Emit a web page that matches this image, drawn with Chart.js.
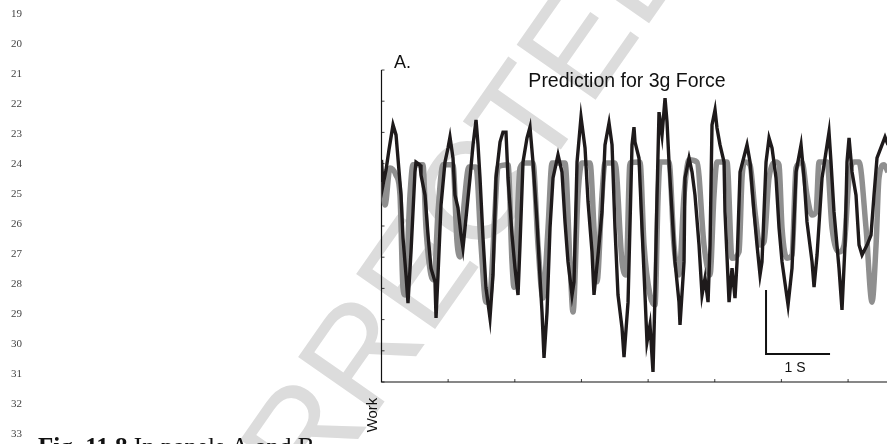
<!DOCTYPE html>
<html>
<head>
<meta charset="utf-8">
<script src="https://cdn.jsdelivr.net/npm/chart.js@4.4.1/dist/chart.umd.min.js"></script>
<style>
  html, body { margin: 0; padding: 0; background: #fff; }
  #wrap { position: relative; width: 887px; height: 444px; }
</style>
</head>
<body>
<div id="wrap"><canvas id="forceChart"></canvas></div>
<script>
// time in seconds (scale bar = 1 s), work in tick units (0..10)
const timeMeasured = [0, 0.023, 0.070, 0.117, 0.180, 0.227, 0.305, 0.336, 0.383, 0.414, 0.461, 0.523, 0.539, 0.602, 0.617, 0.680, 0.727, 0.773, 0.836, 0.852, 0.883, 0.930, 0.992, 1.039, 1.070, 1.117, 1.148, 1.195, 1.242, 1.273, 1.305, 1.383, 1.430, 1.477, 1.508, 1.539, 1.586, 1.633, 1.695, 1.742, 1.789, 1.852, 1.898, 1.945, 1.977, 2.039, 2.086, 2.133, 2.164, 2.211, 2.273, 2.320, 2.367, 2.430, 2.477, 2.508, 2.539, 2.586, 2.633, 2.680, 2.758, 2.820, 2.867, 2.914, 2.977, 3.008, 3.055, 3.117, 3.180, 3.227, 3.289, 3.320, 3.383, 3.445, 3.492, 3.555, 3.602, 3.648, 3.695, 3.758, 3.789, 3.852, 3.914, 3.945, 3.961, 4.023, 4.070, 4.117, 4.148, 4.195, 4.242, 4.273, 4.305, 4.336, 4.383, 4.430, 4.461, 4.492, 4.539, 4.586, 4.648, 4.664, 4.727, 4.742, 4.805, 4.852, 4.898, 4.961, 5.008, 5.055, 5.102, 5.133, 5.164, 5.211, 5.242, 5.289, 5.352, 5.367, 5.430, 5.477, 5.523, 5.555, 5.602, 5.711, 5.758, 5.820, 5.867, 5.914, 5.945, 6.008, 6.055, 6.102, 6.164, 6.211, 6.258, 6.352, 6.414, 6.477, 6.555, 6.602, 6.648, 6.727, 6.758, 6.805, 6.883, 6.992, 7.023, 7.070, 7.148, 7.195, 7.242, 7.273, 7.305, 7.352, 7.414, 7.461, 7.508, 7.586, 7.648, 7.695, 7.742, 7.867, 7.914];
const workMeasured = [7.12, 6.31, 6.79, 7.44, 8.24, 7.92, 5.99, 4.62, 3.43, 2.53, 4.17, 6.73, 7.05, 6.96, 6.63, 5.99, 4.71, 3.65, 3.21, 2.05, 3.43, 5.67, 7.05, 7.50, 7.85, 7.18, 5.99, 5.58, 4.71, 4.29, 4.94, 6.54, 7.60, 8.40, 7.60, 6.54, 4.62, 3.01, 2.05, 3.43, 6.54, 7.69, 8.01, 8.01, 6.54, 4.71, 3.65, 2.79, 4.39, 7.05, 7.82, 8.17, 7.05, 5.13, 3.33, 2.24, 0.77, 2.24, 4.94, 6.54, 7.28, 6.73, 5.13, 3.85, 2.79, 3.21, 7.05, 8.49, 7.50, 5.77, 4.17, 2.79, 4.07, 5.45, 7.60, 8.30, 7.60, 4.94, 2.79, 1.73, 0.80, 2.56, 7.60, 8.17, 7.69, 7.18, 4.94, 2.79, 1.28, 1.83, 0.32, 2.79, 5.99, 8.65, 7.92, 9.10, 8.33, 7.05, 5.45, 3.85, 2.56, 1.83, 3.85, 6.54, 7.18, 6.73, 5.99, 4.39, 2.79, 3.33, 2.56, 4.39, 8.24, 8.72, 8.14, 7.60, 7.05, 5.45, 2.56, 3.65, 2.69, 3.85, 6.73, 7.60, 7.05, 5.45, 4.39, 3.43, 3.85, 7.05, 7.82, 7.50, 6.54, 4.94, 3.85, 2.47, 3.65, 6.73, 7.60, 6.54, 5.13, 3.85, 3.04, 4.07, 6.54, 8.01, 7.05, 5.45, 3.65, 2.31, 4.39, 7.05, 7.82, 6.73, 5.99, 4.39, 4.07, 4.39, 4.71, 5.99, 7.18, 7.85, 7.60];

const timePredicted = [0, 0.055, 0.133, 0.227, 0.289, 0.336, 0.367, 0.445, 0.492, 0.648, 0.695, 0.773, 0.820, 0.883, 0.961, 1.117, 1.180, 1.227, 1.289, 1.367, 1.477, 1.555, 1.633, 1.695, 1.773, 1.820, 1.977, 2.039, 2.070, 2.164, 2.242, 2.367, 2.445, 2.523, 2.602, 2.664, 2.867, 2.945, 2.992, 3.070, 3.133, 3.258, 3.320, 3.367, 3.445, 3.492, 3.648, 3.758, 3.820, 3.883, 4.039, 4.102, 4.195, 4.273, 4.320, 4.352, 4.492, 4.570, 4.648, 4.727, 4.805, 4.930, 5.039, 5.133, 5.195, 5.242, 5.398, 5.477, 5.586, 5.633, 5.680, 5.758, 5.836, 5.914, 5.977, 6.055, 6.164, 6.211, 6.258, 6.336, 6.414, 6.477, 6.570, 6.648, 6.727, 6.789, 6.836, 6.961, 7.039, 7.148, 7.227, 7.305, 7.383, 7.461, 7.570, 7.664, 7.727, 7.773, 7.852, 7.914];
const workPredicted = [6.41, 5.67, 6.86, 6.63, 5.99, 3.01, 2.79, 5.99, 6.96, 6.96, 4.94, 3.43, 3.27, 5.45, 6.96, 6.96, 4.49, 4.01, 5.67, 6.89, 6.89, 4.39, 2.56, 2.76, 5.45, 6.89, 6.96, 3.85, 3.04, 6.86, 7.02, 7.02, 4.39, 2.69, 4.94, 7.02, 7.02, 3.85, 2.24, 5.99, 7.02, 7.02, 4.94, 3.21, 5.99, 7.02, 7.02, 3.85, 3.43, 7.02, 7.05, 4.39, 2.79, 2.47, 5.83, 7.05, 7.05, 4.39, 3.43, 5.99, 7.12, 7.05, 4.39, 3.43, 5.99, 7.05, 7.05, 3.97, 4.17, 6.54, 7.05, 6.96, 5.45, 4.39, 4.49, 6.54, 7.05, 6.96, 4.94, 3.97, 4.07, 6.86, 7.05, 5.99, 5.35, 5.45, 7.05, 7.05, 4.94, 4.17, 4.39, 6.54, 7.05, 7.05, 4.94, 2.56, 4.39, 6.54, 6.96, 6.73];

const workTicks = [0, 1, 2, 3, 4, 5, 6, 7, 8, 9, 10];
const timeTicks = [1.041, 2.083, 3.124, 4.166, 5.207, 6.248, 7.290];
const lineNumbers = ['19', '20', '21', '22', '23', '24', '25', '26', '27', '28', '29', '30', '31', '32', '33'];

const SANS = '"Liberation Sans", Arial, sans-serif';
const SERIF = '"Liberation Serif", "Times New Roman", serif';

const pagePlugin = {
    id: 'page',
    beforeDraw(chart) {
        const ctx = chart.ctx;
        ctx.save();
        ctx.fillStyle = '#fff';
        ctx.fillRect(0, 0, chart.width, chart.height);

        // watermark
        ctx.fillStyle = '#dcdcdc';
        ctx.font = '140px ' + SANS;
        ctx.translate(470, 192);
        ctx.rotate(-55 * Math.PI / 180);
        const pre = ctx.measureText('UNCORRE').width + ctx.measureText('C').width / 2;
        ctx.textBaseline = 'alphabetic';
        ctx.fillText('UNCORRECTED PROOF', -pre, 50);
        ctx.restore();

        // margin line numbers
        ctx.save();
        ctx.fillStyle = '#444';
        ctx.font = '11px ' + SERIF;
        ctx.textBaseline = 'middle';
        lineNumbers.forEach((n, i) => ctx.fillText(n, 11, 14 + i * 30));

        // caption start
        ctx.fillStyle = '#111';
        ctx.font = 'bold 25px ' + SERIF;
        ctx.textBaseline = 'alphabetic';
        ctx.fillText('Fig. 11.8', 38, 455);
        const w = ctx.measureText('Fig. 11.8').width;
        ctx.font = '25px ' + SERIF;
        ctx.fillText(' In panels A and B', 38 + w, 455);
        ctx.restore();
    },
    beforeDatasetsDraw(chart) {
        const ctx = chart.ctx;
        const xs = chart.scales.x, ys = chart.scales.y;
        const x0 = xs.getPixelForValue(0), y0 = ys.getPixelForValue(0);
        ctx.save();
        ctx.strokeStyle = '#111';
        ctx.lineWidth = 1.2;
        ctx.beginPath();
        ctx.moveTo(x0, ys.getPixelForValue(10));
        ctx.lineTo(x0, y0);
        ctx.lineTo(xs.right, y0);
        ctx.stroke();
        ctx.lineWidth = 0.8;
        ctx.beginPath();
        workTicks.forEach(v => {
            const y = ys.getPixelForValue(v);
            ctx.moveTo(x0, y); ctx.lineTo(x0 + 3, y);
        });
        timeTicks.forEach(v => {
            const x = xs.getPixelForValue(v);
            ctx.moveTo(x, y0); ctx.lineTo(x, y0 - 3);
        });
        ctx.stroke();

        ctx.fillStyle = '#111';
        ctx.font = '18px ' + SANS;
        ctx.fillText('A.', 394, 68);
        ctx.font = '19.5px ' + SANS;
        ctx.textAlign = 'center';
        ctx.fillText('Prediction for 3g Force', 627, 87);

        ctx.translate(377, 415);
        ctx.rotate(-Math.PI / 2);
        ctx.font = '15px ' + SANS;
        ctx.fillText('Work', 0, 0);
        ctx.restore();
    },
    afterDatasetsDraw(chart) {
        // 1 s scale bar
        const ctx = chart.ctx;
        const xs = chart.scales.x, ys = chart.scales.y;
        const xa = xs.getPixelForValue(6.008), xb = xs.getPixelForValue(7.008);
        const yt = ys.getPixelForValue(2.95), yb = ys.getPixelForValue(0.9);
        ctx.save();
        ctx.strokeStyle = '#111';
        ctx.lineWidth = 2;
        ctx.beginPath();
        ctx.moveTo(xa, yt); ctx.lineTo(xa, yb); ctx.lineTo(xb, yb);
        ctx.stroke();
        ctx.fillStyle = '#111';
        ctx.font = '14px ' + SANS;
        ctx.textAlign = 'center';
        ctx.textBaseline = 'middle';
        ctx.fillText('1 S', xs.getPixelForValue(6.46), 368);
        ctx.restore();
    }
};

const ctx = document.getElementById('forceChart').getContext('2d');
new Chart(ctx, {
    type: 'line',
    data: {
        datasets: [{
            label: 'Measured',
            data: timeMeasured.map((t, i) => ({ x: t, y: workMeasured[i] })),
            borderColor: '#1e1a1b',
            borderWidth: 3.4,
            tension: 0,
            order: 0
        }, {
            label: 'Prediction',
            data: timePredicted.map((t, i) => ({ x: t, y: workPredicted[i] })),
            borderColor: '#8f8f8f',
            borderWidth: 5.5,
            cubicInterpolationMode: 'monotone',
            order: 1
        }]
    },
    options: {
        responsive: true,
        maintainAspectRatio: false,
        animation: false,
        layout: { padding: { left: 381.5, top: 70, right: 0, bottom: 62 } },
        elements: { point: { radius: 0 } },
        scales: {
            x: { type: 'linear', display: false, min: 0, max: 7.898 },
            y: { display: false, min: 0, max: 10 }
        },
        plugins: {
            legend: { display: false },
            tooltip: { enabled: false }
        }
    },
    plugins: [pagePlugin]
});
</script>
</body>
</html>
